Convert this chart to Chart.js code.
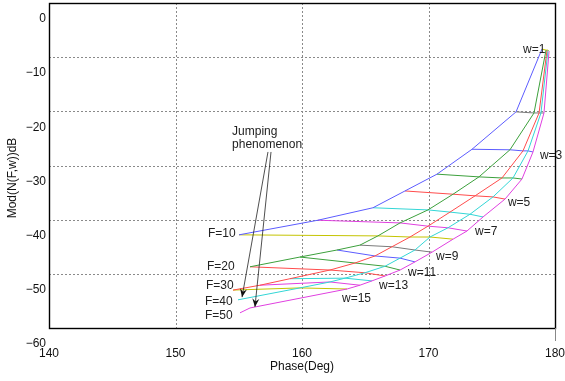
<!DOCTYPE html>
<html>
<head>
<meta charset="utf-8">
<script src="https://cdn.jsdelivr.net/npm/chart.js@4.4.1/dist/chart.umd.min.js"></script>
<style>
  html, body { margin: 0; padding: 0; background: #fff; }
  #wrap { width: 565px; height: 381px; }
</style>
</head>
<body>
<div id="wrap"><canvas id="chart" width="565" height="381"></canvas></div>
<script>
// axes
var phaseTicks = [140, 150, 160, 170, 180];
var dbTicks = [0, -10, -20, -30, -40, -50, -60];
var wValues = [1, 2, 3, 4, 5, 6, 7, 8, 9, 10, 11, 12, 13, 14, 15];
var fValues = [10, 20, 30, 40, 50];

// one entry per w (1..15) for each amplitude F, null where there is no point
var phaseF10 = [178.97, 176.92, 173.44, 170.67, 168.14, 165.61, 161.26, 155.02, null, null, null, null, null, null, null];
var dbF10    = [-8.5, -20.1, -27.0, -31.6, -34.7, -37.8, -40.1, -42.8, null, null, null, null, null, null, null];
var phaseF20 = [179.29, 178.34, 176.44, 173.99, 171.94, 169.96, 167.75, 166.0, 164.58, 162.77, 159.84, 155.89, null, null, null];
var dbF20    = [-8.7, -20.3, -27.1, -32.1, -35.3, -38.2, -40.6, -43.0, -44.7, -45.6, -46.9, -48.7, null, null, null];
var phaseF30 = [179.37, 178.74, 177.47, 175.81, 173.68, 171.70, 169.96, 168.54, 167.11, 165.77, 164.19, 162.21, 159.05, 156.68, 154.55];
var dbF30    = [-8.7, -20.3, -27.3, -32.3, -35.6, -38.6, -41.2, -43.2, -45.0, -46.7, -48.0, -49.3, -50.9, -52.1, -53.0];
var phaseF40 = [179.45, 178.89, 177.87, 176.68, 175.10, 173.28, 171.54, 170.12, 168.93, 167.75, 166.56, 164.98, 163.40, 162.21, 159.84];
var dbF40    = [-8.7, -20.3, -27.3, -32.3, -35.8, -39.0, -41.5, -43.2, -45.6, -47.1, -48.6, -49.8, -50.8, -51.5, -52.6];
var phaseF50 = [179.53, 179.13, 178.26, 177.39, 176.05, 174.31, 173.04, 171.94, 170.28, 168.93, 167.75, 166.56, 165.53, 164.58, 163.56];
var dbF50    = [-8.9, -20.3, -27.5, -32.5, -36.2, -39.5, -42.1, -43.6, -46.0, -47.8, -49.3, -50.4, -51.3, -52.1, -52.8];

// after the jump
var phaseTail40 = [154.94];
var dbTail40    = [-54.8];
var phaseTail50 = [155.89, 155.10];
var dbTail50    = [-56.3, -57.2];

var fColors = ['#5c5cff', '#3ca03c', '#ff4c4c', '#33d6d6', '#e040e0'];
var wColors = ['#c4c400', '#7a7a7a', '#5c5cff', '#3ca03c', '#ff4c4c', '#33d6d6', '#e040e0'];

// text on the plot
var noteText  = ['w=1', 'w=3', 'w=5', 'w=7', 'w=9', 'w=11', 'w=13', 'w=15',
                 'F=10', 'F=20', 'F=30', 'F=40', 'F=50', 'Jumping', 'phenomenon'];
var notePhase = [177.47, 178.81, 176.28, 173.68, 170.59, 168.38, 166.09, 163.16,
                 152.57, 152.49, 152.41, 152.33, 152.33, 154.47, 154.47];
var noteDb    = [-8.7, -28.2, -36.9, -42.3, -46.9, -49.8, -52.1, -54.5,
                 -42.5, -48.7, -52.1, -55.2, -57.8, -23.8, -26.2];

var arrowFromPhase = [157.31, 157.55];
var arrowFromDb    = [-27.5, -27.5];
var arrowToPhase   = [155.26, 156.28];
var arrowToDb      = [-54.3, -56.1];

var font = '12px "Liberation Sans", Arial, sans-serif';

var phaseGrid = [phaseF10, phaseF20, phaseF30, phaseF40, phaseF50];
var dbGrid = [dbF10, dbF20, dbF30, dbF40, dbF50];
var phaseTails = [[], [], [], phaseTail40, phaseTail50];
var dbTails = [[], [], [], dbTail40, dbTail50];

var datasets = [];

function lineSet(label, pts, color) {
	return {
		label: label,
		data: pts,
		borderColor: color,
		borderWidth: 1,
		pointRadius: 0,
		tension: 0,
		fill: false,
		showLine: true
	};
}

// lines of constant F
fValues.forEach(function(f, i) {
	var pts = [];
	for (var j = 0; j < wValues.length; j++) {
		if (phaseGrid[i][j] !== null)
			pts.push({x: phaseGrid[i][j], y: dbGrid[i][j]});
	}
	for (var k = 0; k < phaseTails[i].length; k++)
		pts.push({x: phaseTails[i][k], y: dbTails[i][k]});
	datasets.push(lineSet('F=' + f, pts, fColors[i % fColors.length]));
});

// lines of constant w
wValues.forEach(function(w, j) {
	var pts = [];
	for (var i = 0; i < fValues.length; i++) {
		if (phaseGrid[i][j] !== null)
			pts.push({x: phaseGrid[i][j], y: dbGrid[i][j]});
	}
	datasets.push(lineSet('w=' + w, pts, wColors[j % wColors.length]));
});

function noPadding(s) {
	s.paddingLeft = 0;
	s.paddingRight = 0;
	s.paddingTop = 0;
	s.paddingBottom = 0;
}

var framePlugin = {
	id: 'frame',
	beforeDatasetsDraw: function(chart) {
		var ctx = chart.ctx, a = chart.chartArea;
		var xs = chart.scales.x, ys = chart.scales.y;
		ctx.save();
		ctx.strokeStyle = '#8a8a8a';
		ctx.lineWidth = 1;
		ctx.setLineDash([2, 2]);
		phaseTicks.slice(1, -1).forEach(function(v) {
			var px = Math.round(xs.getPixelForValue(v)) + 0.5;
			ctx.beginPath(); ctx.moveTo(px, a.top); ctx.lineTo(px, a.bottom); ctx.stroke();
		});
		dbTicks.slice(1, -1).forEach(function(v) {
			var py = Math.round(ys.getPixelForValue(v)) + 0.5;
			ctx.beginPath(); ctx.moveTo(a.left, py); ctx.lineTo(a.right, py); ctx.stroke();
		});
		ctx.restore();
	},
	afterDatasetsDraw: function(chart) {
		var ctx = chart.ctx, a = chart.chartArea;
		var xs = chart.scales.x, ys = chart.scales.y;
		ctx.save();
		// notes
		ctx.fillStyle = '#222';
		ctx.font = font;
		ctx.textAlign = 'left';
		ctx.textBaseline = 'middle';
		for (var i = 0; i < noteText.length; i++)
			ctx.fillText(noteText[i], xs.getPixelForValue(notePhase[i]), ys.getPixelForValue(noteDb[i]));

		// arrows
		ctx.strokeStyle = '#222';
		ctx.lineWidth = 0.8;
		for (var k = 0; k < arrowFromPhase.length; k++) {
			var x0 = xs.getPixelForValue(arrowFromPhase[k]), y0 = ys.getPixelForValue(arrowFromDb[k]);
			var x1 = xs.getPixelForValue(arrowToPhase[k]), y1 = ys.getPixelForValue(arrowToDb[k]);
			ctx.beginPath(); ctx.moveTo(x0, y0); ctx.lineTo(x1, y1); ctx.stroke();
			var ang = Math.atan2(y1 - y0, x1 - x0), len = 9, wid = 0.4;
			ctx.beginPath();
			ctx.moveTo(x1, y1);
			ctx.lineTo(x1 - len * Math.cos(ang - wid), y1 - len * Math.sin(ang - wid));
			ctx.lineTo(x1 - len * 0.6 * Math.cos(ang), y1 - len * 0.6 * Math.sin(ang));
			ctx.lineTo(x1 - len * Math.cos(ang + wid), y1 - len * Math.sin(ang + wid));
			ctx.closePath();
			ctx.fillStyle = '#111';
			ctx.fill();
		}

		// box
		ctx.strokeStyle = '#000';
		ctx.lineWidth = 1.4;
		ctx.strokeRect(Math.round(a.left) + 0.5, Math.round(a.top) + 0.5,
			Math.round(a.right - a.left), Math.round(a.bottom - a.top));
		ctx.strokeStyle = '#888';
		ctx.lineWidth = 1;
		ctx.beginPath();
		ctx.moveTo(Math.round(a.right) + 0.5, a.bottom);
		ctx.lineTo(Math.round(a.right) + 0.5, a.bottom + 13);
		ctx.stroke();

		// axis titles
		ctx.fillStyle = '#111';
		ctx.textAlign = 'center';
		ctx.fillText('Phase(Deg)', (a.left + a.right) / 2, 367);
		ctx.translate(13, 178);
		ctx.rotate(-Math.PI / 2);
		ctx.fillText('Mod(N(F,w))dB', 0, 0);
		ctx.restore();
	}
};

new Chart(document.getElementById('chart'), {
	type: 'scatter',
	data: {datasets: datasets},
	plugins: [framePlugin],
	options: {
		responsive: false,
		animation: false,
		events: [],
		layout: {padding: {top: 3, right: 10, left: 0, bottom: 0}},
		plugins: {legend: {display: false}, tooltip: {enabled: false}},
		scales: {
			x: {
				type: 'linear', min: 140, max: 180,
				afterFit: function(s) { s.height = 53; noPadding(s); },
				afterBuildTicks: function(s) { s.ticks = phaseTicks.map(function(v) { return {value: v}; }); },
				grid: {display: false, drawTicks: false},
				border: {display: false},
				ticks: {padding: 18, color: '#111', font: {family: '"Liberation Sans", Arial, sans-serif', size: 12},
					maxRotation: 0, autoSkip: false}
			},
			y: {
				type: 'linear', min: -60, max: 0,
				afterFit: function(s) { s.width = 49; noPadding(s); },
				afterBuildTicks: function(s) { s.ticks = dbTicks.map(function(v) { return {value: v}; }); },
				grid: {display: false, drawTicks: false},
				border: {display: false},
				ticks: {padding: 3, labelOffset: 16, color: '#111', font: {family: '"Liberation Sans", Arial, sans-serif', size: 12},
					autoSkip: false,
					callback: function(v) { return v < 0 ? '\u2212' + (-v) : String(v); }}
			}
		}
	}
});
</script>
</body>
</html>
